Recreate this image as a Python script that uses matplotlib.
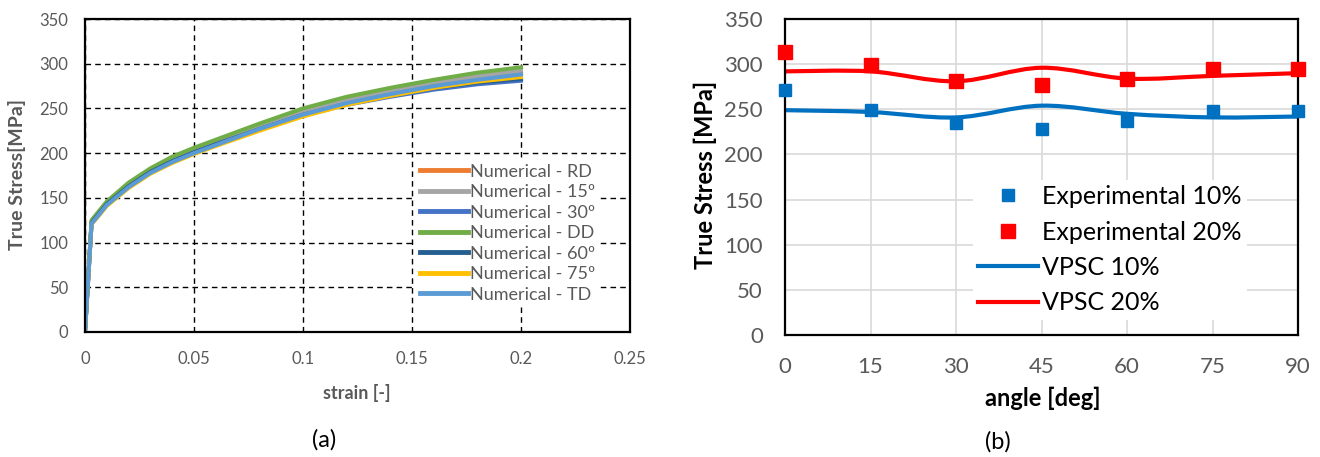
import matplotlib
matplotlib.use("Agg")
import matplotlib.pyplot as plt
import numpy as np
from matplotlib.path import Path
from matplotlib.patches import PathPatch

plt.rcParams['font.family'] = ['Lato', 'DejaVu Sans']

# (a) numerical stress-strain curves
strain = [0, 0.003, 0.005, 0.01, 0.02, 0.03, 0.04, 0.05, 0.06, 0.08, 0.10, 0.12, 0.14, 0.16, 0.18, 0.20]
stress_RD = [0, 123, 129, 144, 165, 181, 194, 204, 213, 231, 248, 260, 270, 278, 285, 290]
stress_15 = [0, 123, 129, 144, 165, 181, 194, 204, 213, 231, 247, 260, 270, 279, 286, 292]
stress_30 = [0, 121, 127, 142, 162, 178, 190, 200, 209, 226, 242, 254, 263, 271, 277, 281]
stress_DD = [0, 125, 131, 146, 167, 183, 196, 206, 215, 233, 250, 263, 273, 282, 290, 296]
stress_60 = [0, 122, 128, 143, 163, 179, 191, 201, 210, 227, 243, 255, 265, 273, 279, 283]
stress_75 = [0, 121, 126, 141, 161, 177, 189, 199, 208, 225, 241, 254, 264, 273, 280, 285]
stress_TD = [0, 121, 127, 142, 162, 178, 190, 200, 209, 227, 243, 256, 266, 275, 282, 288]
names_a = ["Numerical - RD", "Numerical - 15º", "Numerical - 30º", "Numerical - DD",
           "Numerical - 60º", "Numerical - 75º", "Numerical - TD"]
colors_a = ["#ED7D31", "#A5A5A5", "#4472C4", "#70AD47", "#255E91", "#FFC000", "#5B9BD5"]

# (b) stress vs angle
angle = [0, 15, 30, 45, 60, 75, 90]
exp_10 = [271, 249, 235, 228, 237, 248, 248]
exp_20 = [314, 299, 281, 277, 283, 295, 295]
vpsc_10 = [249, 247, 241, 254, 245, 241, 242]
vpsc_20 = [292, 292, 281, 296, 284, 287, 290]


def smooth_path(x, y, t=1/6):
    # Excel-like smoothed line: cubic bezier through the points
    x = np.asarray(x, float); y = np.asarray(y, float)
    verts = [(x[0], y[0])]
    codes = [Path.MOVETO]
    n = len(x)
    for i in range(n - 1):
        i0 = max(i - 1, 0); i3 = min(i + 2, n - 1)
        c1 = (x[i] + (x[i + 1] - x[i0]) * t, y[i] + (y[i + 1] - y[i0]) * t)
        c2 = (x[i + 1] - (x[i3] - x[i]) * t, y[i + 1] - (y[i3] - y[i]) * t)
        verts += [c1, c2, (x[i + 1], y[i + 1])]
        codes += [Path.CURVE4] * 3
    return Path(verts, codes)


W, H = 1320, 457
fig = plt.figure(figsize=(W / 100, H / 100), dpi=100)
gray = "#595959"

# ---------- (a)
ax1 = fig.add_axes([85/W, 1 - 332/H, 545/W, 313/H])
series_a = [stress_RD, stress_15, stress_30, stress_DD, stress_60, stress_75, stress_TD]
for s, n, c in zip(series_a, names_a, colors_a):
    ax1.plot(strain, s, color=c, lw=2.9, label=n)
ax1.set_xlim(0, 0.25)
ax1.set_ylim(0, 350)
ax1.set_xticks([0, 0.05, 0.1, 0.15, 0.2, 0.25])
ax1.set_xticklabels(["0", "0.05", "0.1", "0.15", "0.2", "0.25"])
ax1.set_yticks(range(0, 351, 50))
ax1.grid(True, color="black", linestyle=(0, (4, 3)), lw=1)
ax1.tick_params(axis='x', length=0, labelsize=12, colors=gray, pad=14)
ax1.tick_params(axis='y', length=0, labelsize=12, colors=gray, pad=12)
for sp in ax1.spines.values():
    sp.set_color("black"); sp.set_linewidth(1.6)
leg1 = ax1.legend(loc="upper left", bbox_to_anchor=(416/W, 1 - 160/H), bbox_transform=fig.transFigure,
                  borderaxespad=0, frameon=True, fontsize=13, handlelength=2.7, handletextpad=0.1,
                  labelspacing=0.25, borderpad=0.2, labelcolor=gray, fancybox=False)
leg1.get_frame().set_edgecolor("none")
leg1.get_frame().set_alpha(1)
for l in leg1.get_lines():
    l.set_linewidth(3.5)
fig.text(17/W, 1 - 175/H, "True Stress[MPa]", fontsize=14, fontweight='bold', color=gray,
         rotation=90, ha="center", va="center")
fig.text(357/W, 1 - 393/H, "strain [-]", fontsize=13, fontweight='bold', color=gray,
         ha="center", va="center")
fig.text(324/W, 1 - 440/H, "(a)", fontsize=17, ha="center", va="center")

# ---------- (b)
ax2 = fig.add_axes([785/W, 1 - 335/H, 513/W, 316/H])
ax2.add_patch(PathPatch(smooth_path(angle, vpsc_10), fill=False, edgecolor="#0070C0", lw=3))
ax2.add_patch(PathPatch(smooth_path(angle, vpsc_20), fill=False, edgecolor="#FF0000", lw=3))
ax2.plot(angle, exp_10, 's', color="#0070C0", ms=8.5, clip_on=False, zorder=3)
ax2.plot(angle, exp_20, 's', color="#FF0000", ms=9.5, clip_on=False, zorder=3)
ax2.set_xlim(0, 90)
ax2.set_ylim(0, 350)
ax2.set_xticks(angle)
ax2.set_yticks(range(0, 351, 50))
ax2.grid(True, color="#D9D9D9", lw=1.2)
ax2.set_axisbelow(True)
ax2.tick_params(axis='x', length=0, labelsize=16, colors=gray, pad=16)
ax2.tick_params(axis='y', length=0, labelsize=16, colors=gray, pad=16)
for sp in ax2.spines.values():
    sp.set_color("black"); sp.set_linewidth(1.6)
h = [plt.Line2D([], [], ls='none', marker='s', color="#0070C0", ms=8.5),
     plt.Line2D([], [], ls='none', marker='s', color="#FF0000", ms=9.5),
     plt.Line2D([], [], color="#0070C0", lw=3),
     plt.Line2D([], [], color="#FF0000", lw=3)]
leg2 = ax2.legend(h, ["Experimental 10%", "Experimental 20%", "VPSC 10%", "VPSC 20%"],
                  loc="upper left", bbox_to_anchor=(973/W, 1 - 180/H), bbox_transform=fig.transFigure,
                  borderaxespad=0, frameon=True, fontsize=18, handlelength=2.4, handletextpad=0.17,
                  labelspacing=0.5, borderpad=0.2, fancybox=False)
leg2.get_frame().set_edgecolor("none")
leg2.get_frame().set_alpha(1)
fig.text(705/W, 1 - 175/H, "True Stress [MPa]", fontsize=17, fontweight='bold',
         rotation=90, ha="center", va="center")
fig.text(1043/W, 1 - 398/H, "angle [deg]", fontsize=17, fontweight='bold',
         ha="center", va="center")
fig.text(998/W, 1 - 442/H, "(b)", fontsize=17, ha="center", va="center")

fig.savefig("out.png", dpi=100)
